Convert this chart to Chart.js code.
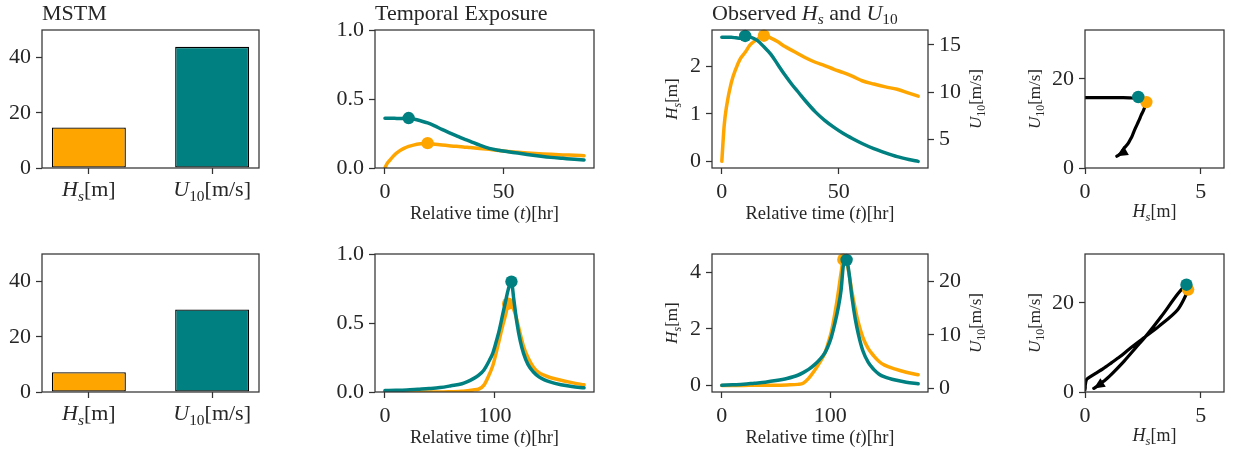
<!DOCTYPE html>
<html><head><meta charset="utf-8">
<script src="https://cdn.jsdelivr.net/npm/chart.js@4/dist/chart.umd.min.js"></script>
<style>
html,body{margin:0;padding:0;background:#fff;}
#wrap{position:relative;width:1238px;height:454px;overflow:hidden;background:#fff;}
canvas{position:absolute;}
</style></head><body><div id="wrap"></div>
<script>
// ================= DATA =================
// MSTM bars
const barPositions = [0, 1];
const mstmTop = [14.7, 43.9];
const mstmBottom = [7.2, 29.9];

// Event 1 (top row): relative time [hr]
const t1 = [0,1,2,4,6,8,10,12,15,18,21,24,27,30,33,36,40,44,48,52,56,60,65,70,75,80,84];
const hs1 = [0.0,0.75,1.15,1.65,1.95,2.17,2.3,2.45,2.57,2.65,2.6,2.52,2.42,2.34,2.26,2.18,2.09,2.02,1.94,1.87,1.79,1.7,1.63,1.57,1.52,1.44,1.375];
const u1 = [15.8,15.8,15.8,15.8,15.75,15.7,15.95,15.85,15.5,14.8,14.0,12.9,11.8,10.8,9.9,9.0,7.9,7.0,6.25,5.6,5.05,4.55,4.0,3.55,3.15,2.85,2.65];
const expHs1 = [0.0,0.035,0.055,0.095,0.122,0.142,0.157,0.166,0.175,0.18,0.172,0.166,0.161,0.157,0.153,0.148,0.142,0.135,0.127,0.12,0.114,0.109,0.104,0.099,0.095,0.092,0.089];
const expU1 = [0.36,0.36,0.36,0.36,0.358,0.36,0.362,0.355,0.342,0.327,0.305,0.28,0.257,0.235,0.213,0.193,0.165,0.142,0.128,0.118,0.108,0.098,0.087,0.077,0.07,0.063,0.058];

// Event 2 (bottom row)
const t2 = [0,10,20,30,40,50,60,70,75,80,85,90,95,98,101,104,107,110,112,115,117,120,123,126,130,135,140,145,150,160,170,181];
const hs2 = [0,0,0,0.01,0.01,0.01,0.02,0.04,0.08,0.25,0.5,0.8,1.15,1.5,1.9,2.5,3.2,4.0,4.45,4.38,4.0,3.3,2.7,2.2,1.7,1.3,1.05,0.85,0.72,0.58,0.47,0.38];
const u2 = [0.5,0.6,0.7,0.9,1.1,1.4,1.8,2.4,2.9,3.5,4.3,5.3,6.6,7.9,9.6,12.0,14.8,18.5,23.0,24.1,22.0,17.0,13.0,10.0,7.0,4.8,3.5,2.6,2.1,1.5,1.1,0.8];
const expHs2 = [0,0,0,0,0,0,0.002,0.005,0.01,0.015,0.02,0.05,0.13,0.19,0.28,0.38,0.48,0.57,0.64,0.62,0.60,0.52,0.42,0.33,0.25,0.18,0.14,0.12,0.105,0.085,0.068,0.052];
const expU2 = [0.01,0.012,0.015,0.02,0.025,0.032,0.045,0.06,0.075,0.095,0.12,0.16,0.23,0.28,0.36,0.45,0.56,0.67,0.74,0.80,0.68,0.50,0.37,0.28,0.20,0.145,0.11,0.088,0.073,0.053,0.04,0.03];

// Tick values
const barTicksY = [0, 20, 40];
const expTicksY = [0, 0.5, 1.0];
const timeTicks1 = [0, 50];
const timeTicks2 = [0, 100];
const hsTicks1 = [0, 1, 2];
const uTicks1 = [5, 10, 15];
const hsTicks2 = [0, 2, 4];
const uTicks2 = [0, 10, 20];
const phaseTicksX = [0, 5];
const phaseTicksY = [0, 20];

// Text (segments: r=roman, i=italic, si=subscript italic, sr=subscript roman)
const HS_LABEL = [['H','i'],['s','si'],['[m]','r']];
const U10_LABEL = [['U','i'],['10','sr'],['[m/s]','r']];
const TIME_LABEL = [['Relative time (','r'],['t','i'],[')[hr]','r']];
const barCategoryLabels = [HS_LABEL, U10_LABEL];
const TITLE_MSTM = [['MSTM','r']];
const TITLE_EXPO = [['Temporal Exposure','r']];
const TITLE_OBS = [['Observed ','r'],['H','i'],['s','si'],[' and ','r'],['U','i'],['10','sr']];

// ================= STYLE / LAYOUT =================
const ORANGE = '#FFA500', TEAL = '#008080';
const FONT = "'Liberation Serif','Times New Roman',serif";
const TXT = '#262626', AX = '#333333';
const COLS = [{L:42,R:259,padL:42,padR:20},{L:375,R:594,padL:60,padR:20},{L:712,R:928,padL:70,padR:62},{L:1085,R:1224,padL:70,padR:14}];
const ROWS = [{T:30,B:168},{T:254,B:392}];
const XH = 62;

Chart.defaults.font.family = FONT;

function argmax(a){ let k=0; a.forEach((v,i)=>{ if(v>a[k]) k=i; }); return k; }
const pts = (xs, ys) => xs.map((x,i)=>({x, y: ys[i]}));

function drawRich(ctx, segs, x, y, size, align, rot) {
  ctx.save();
  ctx.translate(x, y); ctx.rotate(rot || 0);
  ctx.fillStyle = TXT; ctx.textBaseline = 'alphabetic'; ctx.textAlign = 'left';
  const fontFor = st => { const sub = st[0] === 's'; const it = st.indexOf('i') >= 0; return (it ? 'italic ' : '') + (sub ? size*0.7 : size) + 'px ' + FONT; };
  let w = 0;
  const ws = segs.map(([t, st]) => { ctx.font = fontFor(st); const m = ctx.measureText(t).width; w += m; return m; });
  let cx = align === 'left' ? 0 : (align === 'right' ? -w : -w/2);
  segs.forEach(([t, st], i) => { ctx.font = fontFor(st); ctx.fillText(t, cx, st[0] === 's' ? size*0.22 : 0); cx += ws[i]; });
  ctx.restore();
}

function richPlugin(items) {
  return { id: 'rich', afterDraw(chart) { items.forEach(it => { const p = it.at(chart, chart.chartArea); drawRich(chart.ctx, it.segs, p.x, p.y, it.size, it.align || 'center', it.rot || 0); }); } };
}
const boxPlugin = { id: 'box', afterDatasetsDraw(chart) {
  const a = chart.chartArea, ctx = chart.ctx; ctx.save(); ctx.strokeStyle = AX; ctx.lineWidth = 1.25;
  ctx.strokeRect(a.left, a.top, a.right - a.left, a.bottom - a.top); ctx.restore(); } };

function arrowPlugin(xs, ys) {
  return { id: 'arrow', afterDatasetsDraw(chart) {
    const sx = chart.scales.x, sy = chart.scales.y, n = xs.length;
    const x1 = sx.getPixelForValue(xs[n-2]), y1 = sy.getPixelForValue(ys[n-2]);
    const x2 = sx.getPixelForValue(xs[n-1]), y2 = sy.getPixelForValue(ys[n-1]);
    const a = Math.atan2(y2 - y1, x2 - x1), L = 11, W = 5;
    const ctx = chart.ctx; ctx.save(); ctx.fillStyle = '#000'; ctx.beginPath();
    ctx.moveTo(x2, y2);
    ctx.lineTo(x2 - L*Math.cos(a) + W*Math.sin(a), y2 - L*Math.sin(a) - W*Math.cos(a));
    ctx.lineTo(x2 - L*Math.cos(a) - W*Math.sin(a), y2 - L*Math.sin(a) + W*Math.cos(a));
    ctx.closePath(); ctx.fill(); ctx.restore(); } };
}

function axisScale(pos, min, max, ticks, size, fmt, showLabels) {
  return {
    type: 'linear', position: pos, min, max, bounds: 'data', offset: false,
    afterBuildTicks: s => { s.ticks = ticks.map(v => ({value: v})); },
    afterFit: s => { if (pos === 'bottom') s.height = size; else s.width = size; },
    grid: { display: true, offset: false, drawOnChartArea: false, drawTicks: true, tickLength: 6, tickWidth: 1.25, tickColor: AX },
    border: { display: false },
    ticks: { display: showLabels !== false, color: TXT, font: {family: FONT, size: 22}, padding: 5,
             maxRotation: 0, autoSkip: false, callback: fmt || (v => String(v)) }
  };
}

function makePanel(col, row, cfg, hasRight, items, extraPlugins) {
  const C = COLS[col], R = ROWS[row];
  const w = C.padL + (C.R - C.L) + C.padR, h = 30 + (R.B - R.T) + XH;
  const cv = document.createElement('canvas');
  cv.width = w; cv.height = h;
  cv.style.left = (C.L - C.padL) + 'px'; cv.style.top = (R.T - 30) + 'px';
  cv.style.width = w + 'px'; cv.style.height = h + 'px';
  document.getElementById('wrap').appendChild(cv);
  cfg.options = Object.assign({
    responsive: false, animation: false, devicePixelRatio: 1, events: [],
    layout: { padding: { top: 30, left: 0, bottom: 0, right: hasRight ? 0 : C.padR } },
    plugins: { legend: {display: false}, tooltip: {enabled: false} }
  }, cfg.options);
  cfg.plugins = [boxPlugin, richPlugin(items)].concat(extraPlugins || []);
  return new Chart(cv, cfg);
}

const lineDs = (xs, ys, color, order, extra) => Object.assign({ data: pts(xs, ys), showLine: true, borderColor: color, borderWidth: 3.5, pointRadius: 0, borderCapStyle: 'round', borderJoinStyle: 'round', cubicInterpolationMode: 'monotone', order }, extra || {});
const markDs = (x, y, color, order) => ({ data: [{x, y}], showLine: false, pointRadius: 6.2, pointBackgroundColor: color, pointBorderWidth: 0, backgroundColor: color, order, clip: false });

const titleItem = segs => ({ segs, size: 22, align: 'left', at: (c, a) => ({x: a.left, y: a.top - 10.5}) });
const timeItem = { segs: TIME_LABEL, size: 18.5, at: (c, a) => ({x: (a.left + a.right)/2, y: a.bottom + 51}) };
const yTitle = (segs, off) => ({ segs, size: 17, rot: -Math.PI/2, at: (c, a) => ({x: a.left - off, y: (a.top + a.bottom)/2}) });
const yTitleR = (segs, off) => ({ segs, size: 17, rot: -Math.PI/2, at: (c, a) => ({x: a.right + off, y: (a.top + a.bottom)/2}) });
const barCatItems = barPositions.map((p, i) => ({ segs: barCategoryLabels[i], size: 22, at: (c, a) => ({x: c.scales.x.getPixelForValue(p), y: a.bottom + 28}) }));

// ================= PANELS =================
function barPanel(row, vals, withTitle) {
  const C = COLS[0];
  makePanel(0, row, {
    type: 'bar',
    data: { datasets: [{ data: pts(barPositions, vals), backgroundColor: [ORANGE, TEAL], borderColor: '#000', borderWidth: 1.3, borderSkipped: false, categoryPercentage: 1, barPercentage: 0.6 }] },
    options: { scales: { x: axisScale('bottom', -0.38, 1.38, barPositions, XH, null, false), y: axisScale('left', 0, 50, barTicksY, C.padL) } }
  }, false, (withTitle ? [titleItem(TITLE_MSTM)] : []).concat(barCatItems));
}

function expoPanel(row, t, eh, eu, hs, u, xmin, xmax, xt, withTitle) {
  const C = COLS[1], iH = argmax(hs), iU = argmax(u);
  makePanel(1, row, {
    type: 'scatter',
    data: { datasets: [
      markDs(t[iU], eu[iU], TEAL, 0),
      lineDs(t, eu, TEAL, 1),
      markDs(t[iH], eh[iH], ORANGE, 2),
      lineDs(t, eh, ORANGE, 3)
    ] },
    options: { scales: { x: axisScale('bottom', xmin, xmax, xt, XH), y: axisScale('left', 0, 1, expTicksY, C.padL, v => v.toFixed(1)) } }
  }, false, (withTitle ? [titleItem(TITLE_EXPO)] : []).concat([timeItem]));
}

function obsPanel(row, t, hs, u, xmin, xmax, xt, hmin, hmax, ht, umin, umax, ut, withTitle) {
  const C = COLS[2], iH = argmax(hs), iU = argmax(u);
  makePanel(2, row, {
    type: 'scatter',
    data: { datasets: [
      Object.assign(markDs(t[iU], u[iU], TEAL, 0), {yAxisID: 'y2'}),
      lineDs(t, u, TEAL, 1, {yAxisID: 'y2'}),
      Object.assign(markDs(t[iH], hs[iH], ORANGE, 2), {yAxisID: 'y'}),
      lineDs(t, hs, ORANGE, 3, {yAxisID: 'y'})
    ] },
    options: { scales: {
      x: axisScale('bottom', xmin, xmax, xt, XH),
      y: axisScale('left', hmin, hmax, ht, C.padL),
      y2: axisScale('right', umin, umax, ut, C.padR)
    } }
  }, true, (withTitle ? [titleItem(TITLE_OBS)] : []).concat([timeItem, yTitle(HS_LABEL, 35), yTitleR(U10_LABEL, 53)]));
}

function phasePanel(row, hs, u) {
  const C = COLS[3], iH = argmax(hs), iU = argmax(u);
  makePanel(3, row, {
    type: 'scatter',
    data: { datasets: [
      markDs(hs[iU], u[iU], TEAL, 0),
      markDs(hs[iH], u[iH], ORANGE, 1),
      lineDs(hs, u, '#000', 2, {borderWidth: 3.2, cubicInterpolationMode: 'default', tension: 0.25})
    ] },
    options: { scales: { x: axisScale('bottom', 0, 6, phaseTicksX, XH), y: axisScale('left', 0, 31, phaseTicksY, C.padL) } }
  }, false, [
    { segs: HS_LABEL, size: 18, at: (c, a) => ({x: (a.left + a.right)/2, y: a.bottom + 49}) },
    yTitle(U10_LABEL, 45)
  ], [arrowPlugin(hs, u)]);
}

barPanel(0, mstmTop, true);
barPanel(1, mstmBottom, false);
expoPanel(0, t1, expHs1, expU1, hs1, u1, -4.2, 88.2, timeTicks1, true);
expoPanel(1, t2, expHs2, expU2, hs2, u2, -9.05, 190.05, timeTicks2, false);
obsPanel(0, t1, hs1, u1, -4.2, 88.2, timeTicks1, -0.14, 2.77, hsTicks1, 1.95, 16.58, uTicks1, true);
obsPanel(1, t2, hs2, u2, -9.05, 190.05, timeTicks2, -0.23, 4.65, hsTicks2, -0.75, 25.2, uTicks2, false);
phasePanel(0, hs1, u1);
phasePanel(1, hs2, u2);
</script></body></html>
